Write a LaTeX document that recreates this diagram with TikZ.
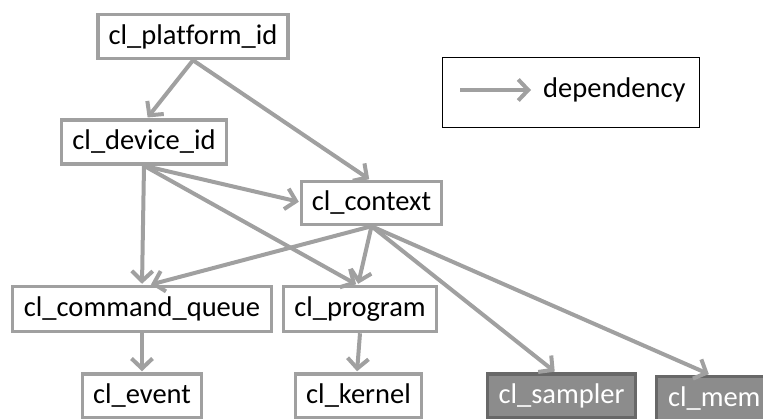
\documentclass[tikz,border=0pt]{standalone}
\usepackage{fontspec}
\setmainfont{Carlito}[Ligatures=NoCommon]
\usetikzlibrary{arrows.meta}
\definecolor{edgegray}{HTML}{A0A0A0}
\definecolor{objfill}{HTML}{8C8C8C}
\definecolor{objline}{HTML}{686868}
\tikzset{
  obj/.style={draw=edgegray, line width=3.5pt, fill=white, rectangle,
    inner sep=0pt, font=\fontsize{28.5}{34}\selectfont, text=black},
  memobj/.style={obj, draw=objline, fill=objfill, text=white},
  dep/.style={draw=edgegray, line width=4pt,
    -{Straight Barb[length=10pt,width=21pt]}, shorten >=1pt},
  legendbox/.style={draw=black, line width=1.5pt, rectangle, inner sep=0pt}
}
\begin{document}
\begin{tikzpicture}[x=1pt,y=-1pt]
\useasboundingbox (0,0) rectangle (763,418);
\clip (0,0) rectangle (763,418);

% object types
\node[obj, minimum width=190pt, minimum height=44pt] (plat) at (193,36.5) {cl\_platform\_id};
\node[obj, minimum width=165pt, minimum height=44pt] (dev)  at (144,142) {cl\_device\_id};
\node[obj, minimum width=140pt, minimum height=43pt] (ctx)  at (371.5,203) {cl\_context};
\node[obj, minimum width=259pt, minimum height=45pt] (cq)   at (142,309) {cl\_command\_queue};
\node[obj, minimum width=153pt, minimum height=45pt] (prog) at (360,309) {cl\_program};
\node[obj, minimum width=119pt, minimum height=44pt] (evt)  at (142,396) {cl\_event};
\node[obj, minimum width=126pt, minimum height=44pt] (kern) at (358.5,396) {cl\_kernel};
\node[memobj, minimum width=148pt, minimum height=44pt] (samp) at (561.5,396) {cl\_sampler};
\node[memobj, minimum width=116pt, minimum height=44pt, anchor=north west] (mem) at (654.5,374.5) {cl\_mem};

% legend
\node[legendbox, minimum width=257pt, minimum height=70pt] (legend) at (571,92.5) {};
\coordinate (lgA) at (460,90);
\coordinate (lgB) at (532,90);
\node[anchor=west, font=\fontsize{28.5}{34}\selectfont, inner sep=0pt] (lgtext) at (543,90) {dependency};
\draw[dep] (lgA) -- (lgB);

% dependencies
\draw[dep] (plat.south) -- ([xshift=3pt]dev.north);
\draw[dep] (plat.south) -- ([xshift=-1.5pt]ctx.north);
\draw[dep] (dev.south) -- ([yshift=1pt]ctx.west);
\draw[dep] (dev.south) -- (cq.north);
\draw[dep] (dev.south) -- ([xshift=-3pt]prog.north);
\draw[dep] (ctx.south) -- ([xshift=8pt]cq.north);
\draw[dep] (ctx.south) -- ([xshift=-2pt]prog.north);
\draw[dep] (ctx.south) -- ([xshift=-6pt]samp.north);
\draw[dep] (ctx.south) -- ([xshift=-4.5pt]mem.north);
\draw[dep] (cq.south) -- (evt.north);
\draw[dep] (prog.south) -- ([xshift=-1.5pt]kern.north);
\end{tikzpicture}
\end{document}
